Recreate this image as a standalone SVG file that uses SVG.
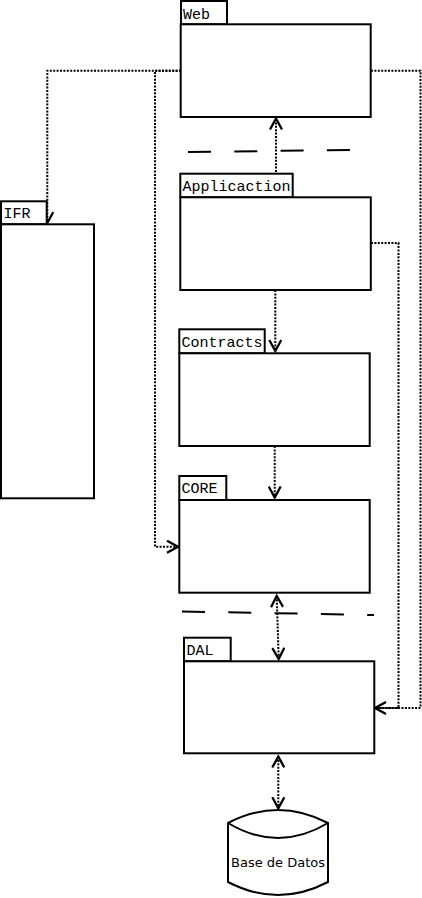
<svg xmlns="http://www.w3.org/2000/svg" width="422" height="898" viewBox="0 0 422 898">
<style>
.box{fill:#fff;stroke:#000;stroke-width:2}
.lbl{font-family:"Liberation Mono","DejaVu Sans Mono",monospace;font-size:15px;fill:#000}
.dot{fill:none;stroke:#000;stroke-width:2;stroke-dasharray:2 1.4}
.sep{fill:none;stroke:#000;stroke-width:2;stroke-dasharray:23 23.3}
</style>
<defs>
<marker id="arr" viewBox="0 0 14 14" refX="12" refY="7" markerWidth="14" markerHeight="14" markerUnits="userSpaceOnUse" orient="auto-start-reverse">
<path d="M1,1 L12,7 L1,13" fill="none" stroke="#000" stroke-width="2.3"/>
</marker>
</defs>
<g id="connectors">
<path class="dot" d="M181,70.7 H47.3 V223" marker-end="url(#arr)"/>
<path class="dot" d="M181,70.7 H155 V546.7 H178" marker-end="url(#arr)"/>
<path class="dot" d="M371,70.7 H420.5 V708 H375" marker-end="url(#arr)"/>
<path class="dot" d="M371,243 H398.5 V708 H376"/>
<path class="dot" d="M276,172 V118.5" marker-end="url(#arr)"/>
<path class="dot" d="M275.3,290 V351" marker-end="url(#arr)"/>
<path class="dot" d="M274.7,446 V497.5" marker-end="url(#arr)"/>
<path class="dot" d="M276.7,596 L278.7,659" marker-start="url(#arr)" marker-end="url(#arr)"/>
<path class="dot" d="M278.3,756.5 V808.3" marker-start="url(#arr)" marker-end="url(#arr)"/>
<path class="sep" d="M188,152 L350,150"/>
<path class="sep" d="M182,611.5 L374,615"/>
</g>
<g id="web">
<rect class="box" x="181" y="1" width="46" height="23.3"/>
<rect class="box" x="180.7" y="24.3" width="190" height="92.7"/>
<text class="lbl" x="183" y="18.5">Web</text>
</g>
<g id="application">
<rect class="box" x="180.3" y="173.7" width="112.4" height="23.6"/>
<rect class="box" x="180.3" y="197.3" width="190.5" height="92.7"/>
<text class="lbl" x="182.5" y="190.7">Applicaction</text>
</g>
<g id="contracts">
<rect class="box" x="179.3" y="329.3" width="85.4" height="24"/>
<rect class="box" x="179.3" y="353.3" width="190.4" height="92.7"/>
<text class="lbl" x="181.5" y="347.3">Contracts</text>
</g>
<g id="core">
<rect class="box" x="179.3" y="476" width="47" height="24"/>
<rect class="box" x="179.3" y="500" width="190.4" height="92.7"/>
<text class="lbl" x="181.5" y="493">CORE</text>
</g>
<g id="dal">
<rect class="box" x="184" y="637.7" width="46.7" height="23.6"/>
<rect class="box" x="184" y="661.3" width="190.3" height="92"/>
<text class="lbl" x="186.5" y="654.5">DAL</text>
</g>
<g id="ifr">
<rect class="box" x="1" y="201.3" width="45.7" height="23"/>
<rect class="box" x="1" y="224.3" width="93" height="274"/>
<text class="lbl" x="3.5" y="218.3">IFR</text>
</g>
<g id="db">
<path class="box" d="M228,823 Q278,797 328,823 L328,882 Q278,908 228,882 Z"/>
<path d="M228,823 Q278,853 328,823" fill="none" stroke="#000" stroke-width="2"/>
<text x="278" y="866.5" text-anchor="middle" font-family="DejaVu Sans, sans-serif" font-size="13" fill="#000">Base de Datos</text>
</g>
</svg>
